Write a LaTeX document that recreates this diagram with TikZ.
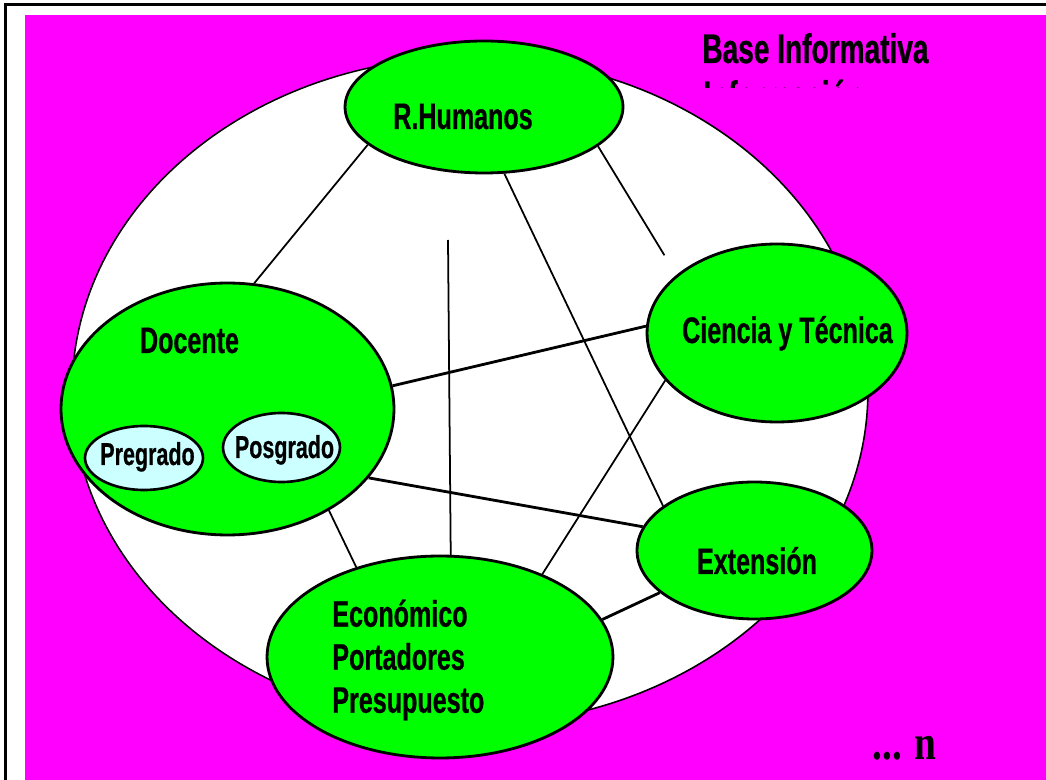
\documentclass[tikz,border=0pt]{standalone}
\usepackage{fontspec}
\newfontfamily\lblfont[FakeStretch=0.68,FakeBold=0.6]{Liberation Sans}
\newfontfamily\dotfont[FakeStretch=0.8]{Liberation Serif}
\usetikzlibrary{shapes,positioning}
\definecolor{fondo}{RGB}{255,0,255}
\definecolor{verde}{RGB}{0,255,0}
\definecolor{celeste}{RGB}{204,255,255}

\tikzset{
  area/.style={ellipse, draw, fill=verde, line width=1.6pt, inner sep=0pt},
  subarea/.style={ellipse, draw, fill=celeste, line width=1.5pt, inner sep=0pt},
  lbl/.style={inner sep=0pt, font=\lblfont\bfseries\fontsize{21}{24.5}\selectfont},
  sublbl/.style={inner sep=0pt, font=\lblfont\bfseries\fontsize{18}{20}\selectfont},
  titulo/.style={inner sep=0pt, font=\lblfont\bfseries\fontsize{23.5}{27}\selectfont},
  link/.style={line width=1pt},
  tlink/.style={line width=1.6pt}
}

\begin{document}
\begin{tikzpicture}[x=0.02cm,y=-0.02cm]
\clip (0,0) rectangle (1046,780);
\draw[line width=1.2pt] (5.5,790) -- (5.5,4.5) -- (1060,4.5);
\fill[fondo] (25,15) rectangle (1046,780);
\draw[fill=white, line width=0.9pt] (470,391) ellipse [x radius=7.96cm, y radius=6.68cm];

% Base informativa
\node[titulo, anchor=base west] (base) at (702,63) {Base Informativa};
\begin{scope}
\clip (690,70) rectangle (960,88);
\node[titulo, anchor=base west] (info) at (703,110) {Información};
\end{scope}

% Areas
\node[area, minimum width=5.56cm, minimum height=2.64cm] (hum) at (484,107) {};
\node[area, minimum width=6.66cm, minimum height=5.04cm] (doc) at (227.5,409) {};
\node[area, minimum width=5.2cm, minimum height=3.56cm] (cie) at (777,333) {};
\node[area, minimum width=4.7cm, minimum height=2.74cm] (ext) at (754.5,550.5) {};
\node[area, minimum width=6.92cm, minimum height=4.04cm] (eco) at (440,657) {};
\node[subarea, minimum width=2.36cm, minimum height=1.28cm] (pre) at (144,458) {};
\node[subarea, minimum width=2.34cm, minimum height=1.38cm] (pos) at (281.5,447.5) {};

% Labels
\node[lbl, anchor=base] (humtxt) at (463,129) {R.Humanos};
\node[lbl, anchor=base] (doctxt) at (189.5,353) {Docente};
\node[lbl, anchor=base] (cietxt) at (787.5,343) {Ciencia y Técnica};
\node[lbl, anchor=base] (exttxt) at (757,574) {Extensión};
\node[lbl, anchor=west, align=left] (ecotxt) at (332,660) {Económico\\Portadores\\Presupuesto};
\node[sublbl, anchor=base] (pretxt) at (147.5,465) {Pregrado};
\node[sublbl, anchor=base] (postxt) at (284.5,458) {Posgrado};

% Links
\coordinate (vtop) at (448,240);
\draw[link] (hum.198.4) -- (doc.78.6);
\draw[link, shorten >=0.46cm] (hum.-19.5) -- (cie.150.8);
\draw[link] (hum.-73) -- (ext.154.6);
\draw[link] (vtop) -- (eco.84.3);
\draw[tlink] (doc.8.6) -- (cie.177.8);
\draw[tlink] (doc.-26.5) -- (ext.168.1);
\draw[link] (doc.-45.7) -- (eco.133.3);
\draw[link] (cie.203.9) -- (eco.39.2);
\draw[tlink] (ext.204.4) -- (eco.13.2);

\node[inner sep=0pt, anchor=base west, font=\dotfont\bfseries\fontsize{28}{32}\selectfont] (dots) at (872,760) {... n};
\end{tikzpicture}
\end{document}
